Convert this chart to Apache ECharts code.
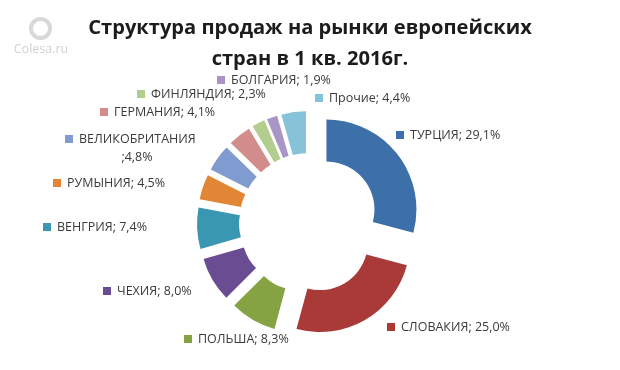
<!DOCTYPE html>
<html>
<head>
<meta charset="utf-8">
<style>
  html, body { margin: 0; padding: 0; background: #fff; }
  #chart { width: 620px; height: 370px; filter: blur(0.45px); }
</style>
<script src="https://cdn.jsdelivr.net/npm/echarts@6/dist/echarts.min.js"></script>
</head>
<body>
<div id="chart"></div>
<script>
var titleLines = ['Структура продаж на рынки европейских', 'стран в 1 кв. 2016г.'];
var categories = ['ТУРЦИЯ', 'СЛОВАКИЯ', 'ПОЛЬША', 'ЧЕХИЯ', 'ВЕНГРИЯ', 'РУМЫНИЯ', 'ВЕЛИКОБРИТАНИЯ', 'ГЕРМАНИЯ', 'ФИНЛЯНДИЯ', 'БОЛГАРИЯ', 'Прочие'];
var shares = [29.1, 25.0, 8.3, 8.0, 7.4, 4.5, 4.8, 4.1, 2.3, 1.9, 4.4];
var colors = ['#3d6fa9', '#a93a38', '#86a344', '#6a4c92', '#3a97b2', '#e08634', '#7f9bcf', '#d28c8c', '#b3cd8e', '#a996c6', '#86c3d8'];

// левый край маркера и середина строки для каждой подписи
var labelX = [396, 387, 184, 103, 43, 53, 65, 100, 137, 217, 315];
var labelY = [135, 327, 339, 291, 227, 183, 139, 112, 94, 80, 98];

var chart = echarts.init(document.getElementById('chart'));

function percentText(v) {
  return v.toFixed(1).replace('.', ',') + '%';
}

var pieData = categories.map(function (name, i) {
  return { name: name, value: shares[i], selected: true, itemStyle: { color: colors[i] } };
});

var labelFont = '12.5px "Open Sans"';
var graphics = [
  { type: 'ring', shape: { cx: 40.5, cy: 28.5, r: 11.5, r0: 7.5 }, style: { fill: '#d8d8d8' } },
  { type: 'text', x: 41, y: 49, style: { text: 'Colesa.ru', fill: '#d2d2d2', font: '12.5px "Open Sans"', textAlign: 'center', textVerticalAlign: 'middle' } },
  { type: 'text', x: 310, y: 28, style: { text: titleLines[0], fill: '#1c1c1c', font: 'bold 20.1px "Open Sans"', textAlign: 'center', textVerticalAlign: 'middle' } },
  { type: 'text', x: 310, y: 59, style: { text: titleLines[1], fill: '#1c1c1c', font: 'bold 20.1px "Open Sans"', textAlign: 'center', textVerticalAlign: 'middle' } }
];

categories.forEach(function (name, i) {
  var x = labelX[i], y = labelY[i];
  var wrapped = name === 'ВЕЛИКОБРИТАНИЯ';
  graphics.push({ type: 'rect', shape: { x: x, y: y - 4, width: 8, height: 8 }, style: { fill: colors[i] } });
  graphics.push({
    type: 'text', x: x + 14, y: y,
    style: { text: wrapped ? name : name + '; ' + percentText(shares[i]), fill: '#3a3a3a', font: labelFont, textVerticalAlign: 'middle' }
  });
  if (wrapped) {
    graphics.push({
      type: 'text', x: x + 72, y: y + 18,
      style: { text: ';' + percentText(shares[i]), fill: '#3a3a3a', font: labelFont, textAlign: 'center', textVerticalAlign: 'middle' }
    });
  }
});

var option = {
  animation: false,
  backgroundColor: '#fff',
  graphic: graphics,
  series: [
    {
      type: 'pie',
      center: [309, 223],
      radius: [48, 90],
      startAngle: 90,
      clockwise: true,
      selectedMode: 'multiple',
      selectedOffset: 22,
      data: pieData,
      label: { show: false },
      labelLine: { show: false }
    }
  ]
};

chart.setOption(option);
</script>
</body>
</html>
